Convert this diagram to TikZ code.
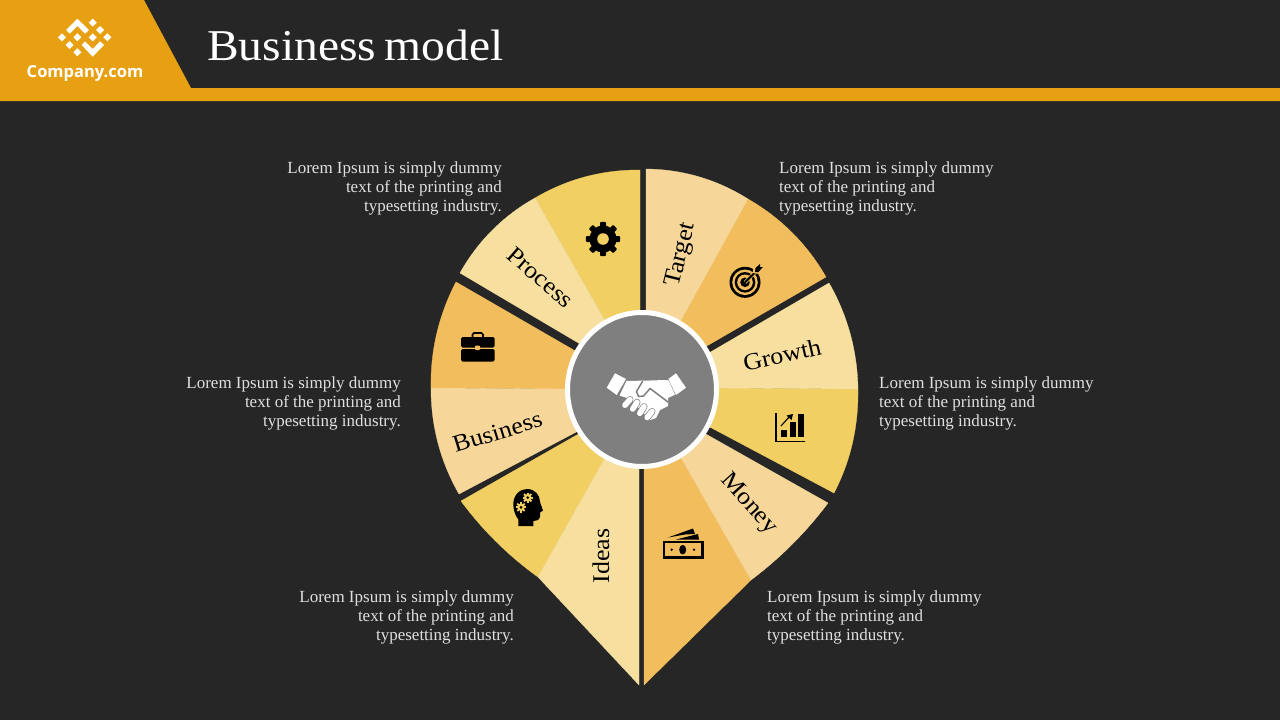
\documentclass[tikz,border=0pt]{standalone}
\usepackage{fontspec}
\usetikzlibrary{shapes.geometric}
\setmainfont{Liberation Serif}
\newfontfamily\titlef[FakeStretch=1.08]{Liberation Serif}
\newfontfamily\labelf[FakeStretch=1.08]{Liberation Serif}
\newfontfamily\logof{Open Sans}
\definecolor{bg}{HTML}{262626}
\definecolor{orangehead}{HTML}{E8A013}
\definecolor{ygold}{HTML}{F2CF63}
\definecolor{ypale}{HTML}{F7E09F}
\definecolor{yorange}{HTML}{F2BD5C}
\definecolor{ypeach}{HTML}{F7D799}
\definecolor{hubgray}{HTML}{7F7F7F}
\definecolor{bodytext}{HTML}{E0E0E0}
\tikzset{
  gold/.style={fill=ygold,draw=ygold,line width=.3pt},
  pale/.style={fill=ypale,draw=ypale,line width=.3pt},
  deep/.style={fill=yorange,draw=yorange,line width=.3pt},
  peach/.style={fill=ypeach,draw=ypeach,line width=.3pt},
  lorem/.style={font=\fontsize{17}{19}\selectfont,text=bodytext,inner sep=0pt},
  seglabel/.style={font=\labelf\fontsize{24}{26}\selectfont,text=black,inner sep=0pt},
}
\begin{document}
\begin{tikzpicture}[x=1pt,y=-1pt]
\path[use as bounding box,fill=bg] (0,0) rectangle (1280,720);
% header
\fill[orangehead] (0,0) -- (144,0) -- (191,88) -- (1280,88) -- (1280,101) -- (0,101) -- cycle;
% logo
\fill[white] (66,30) -- (77.3,18.7) -- (89,30) -- (85,33.7) -- (77.3,26) -- (69.7,33.7) -- cycle;
\fill[white] (81.7,45) -- (85,41.3) -- (92.7,49) -- (100,41.3) -- (104,45) -- (92.7,56.7) -- cycle;
\foreach \p in {(92.7,22.7),(100,30),(107.3,37.3),(62,37.3),(77.3,37.3),(92.7,37.3),(69.7,45),(77.3,52.3)}
  \fill[white,shift={\p}] (-4,0) -- (0,-4) -- (4,0) -- (0,4) -- cycle;
\node[font=\logof\bfseries\fontsize{16.5}{20}\selectfont,text=white,inner sep=0pt,anchor=base] (logotext) at (85,77) {Company.com};
\node[font=\titlef\fontsize{44}{50}\selectfont,text=white,inner sep=0pt,anchor=base west] (title) at (207,60) {Business\hspace{-3.5pt} model};
% segments
\path[gold] (640,170) .. controls (602.3,169.7) and (567.3,179) .. (535,198) -- (607,324) -- (640,315) -- cycle;
\path[pale] (535,198) .. controls (503,216) and (478,241) .. (460,273) -- (581,344.5) -- (607,324) -- cycle;
\path[deep] (456,282) .. controls (438.7,315.3) and (430.3,350.7) .. (431,388) -- (570,389) -- (578,352.5) -- cycle;
\path[peach] (431,388) .. controls (431,426) and (440.3,461.3) .. (459,494) -- (580,430) -- (570,389) -- cycle;
\path[gold] (461,501) .. controls (482.7,530.3) and (508.3,555.7) .. (538,577) -- (606,456) -- (582,432) -- cycle;
\path[pale] (538,577) -- (639,685) -- (639,463) -- (606,456) -- cycle;
\path[deep] (644,685) -- (751,580) -- (680,456) -- (644,463) -- cycle;
\path[peach] (751,580) .. controls (780.3,558) and (806,532.3) .. (828,503) -- (704,433) -- (680,456) -- cycle;
\path[gold] (834,493) .. controls (851,460.3) and (858.5,425.7) .. (858,389) -- (715,388) -- (706,425) -- cycle;
\path[pale] (858,389) .. controls (857.3,351) and (847.7,315.7) .. (829,283) -- (708,353.5) -- (715,388) -- cycle;
\path[deep] (826,277) .. controls (807,244) and (781,218) .. (748,199) -- (680,322) -- (705,347) -- cycle;
\path[peach] (748,199) .. controls (716.7,179.4) and (682.7,169.4) .. (646,169) -- (646,315) -- (680,322) -- cycle;
% hub
\node[ellipse,fill=hubgray,draw=white,line width=5pt,minimum width=149pt,minimum height=154pt,inner sep=0pt] (hub) at (642,389.5) {};
% handshake
\fill[white] (615,373.3) -- (626,379) -- (616.7,395) -- (606.7,387.7) -- cycle;
\fill[white] (676,373.3) -- (686,387.7) -- (676,395) -- (668.3,379) -- cycle;
\fill[white] (626.5,381) -- (650,380.5) -- (665,380) -- (668.5,380.5) -- (675,394.5) -- (668,398) -- (668,406) -- (660,410) -- (656,418) -- (650,420) -- (630,399) -- (619.5,395.5) -- cycle;
\draw[hubgray,line width=1.5pt,line join=round,line cap=round] (642.5,381.5) -- (636.5,391.5) -- (638.5,396.5) -- (643.5,396) -- (650,388.5) -- (668,402);
\foreach \a/\b in {{(625,405.2)}/{(630,399.5)},{(632.7,409)}/{(637,402.3)},{(639.8,413.3)}/{(644,406.7)},{(647.2,417.5)}/{(652,411.5)}}{
  \draw[hubgray,line width=7pt,line cap=round] \a -- \b;
  \draw[white,line width=5.6pt,line cap=round] \a -- \b;
}
% gear
\fill[black] (603,239) circle (13.5);
\foreach \a in {0,45,...,315}
  \fill[black,shift={(603,239)},rotate=\a,rounded corners=1pt] (-3,-17.2) rectangle (3,-8);
\fill[ygold] (603,239) circle (5.8);
% briefcase
\draw[black,line width=1.6pt,rounded corners=1.5pt] (472.5,337.5) -- (472.5,333) -- (483,333) -- (483,337.5);
\fill[black,rounded corners=1.5pt] (461,337) rectangle (494.5,347.5);
\fill[black,rounded corners=1.5pt] (461,349) rectangle (494.5,361.5);
\fill[yorange,rounded corners=.8pt] (475,345.5) rectangle (480,350);
% target
\fill[black] (745,282.3) circle (15.5);
\fill[yorange] (745,282.3) circle (12.8);
\fill[black] (745,282.3) circle (10.3);
\fill[yorange] (745,282.3) circle (7.8);
\fill[black] (745,282.3) circle (4.8);
\draw[yorange,line width=3.5pt] (745,282.3) -- (757,270.5);
\draw[black,line width=2pt] (745,282.3) -- (758,269.5);
\fill[yorange] (752.5,273) -- (754,265.5) -- (760,262) -- (764,267) -- (760,274) -- cycle;
\fill[black] (755,272) -- (755.5,268) -- (760,264) -- (760,267) -- (762.8,267) -- (758.5,272) -- cycle;
% chart
\draw[black,line width=1.6pt] (776,413) -- (776,441.5) -- (804.5,441.5);
\fill[black] (781,430) rectangle (787,437);
\fill[black] (790,421.7) rectangle (796,437);
\fill[black] (798,413.5) rectangle (804,437);
\draw[black,line width=1.1pt] (781,426) -- (790,416);
\fill[black] (793,414) -- (786.5,415.5) -- (791.5,420) -- cycle;
% money
\draw[black,line width=2.4pt] (664,542) rectangle (702.5,557.5);
\fill[black] (682.7,549.7) ellipse (3.5 and 4.8);
\fill[black] (671.7,549.7) circle (1.3);
\fill[black] (694,549.7) circle (1.3);
\fill[black] (668,537.5) -- (693,528.5) -- (695,534) -- (685,534.5) -- cycle;
\fill[black] (676,539.5) -- (698,534) -- (699,539.5) -- cycle;
% head
\fill[black] (518.3,526) -- (518.3,519.5) .. controls (515,515) and (513.3,510) .. (513.3,504) .. controls (513.3,495) and (520,489) .. (527,489) .. controls (535,489) and (540,495) .. (540,502) -- (543,510.5) -- (540,512.5) -- (540,517) .. controls (539,520.5) and (536,521) .. (533.3,521) -- (533.3,526) -- cycle;
\foreach \c in {{(527.7,497.7)},{(521,507.3)}}{
  \fill[ygold] \c circle (3.8);
  \foreach \a in {0,45,...,315}
    \fill[ygold,shift={\c},rotate=\a] (-.9,-5.2) rectangle (.9,-2);
  \fill[black] \c circle (1.5);
}
% labels
\node[seglabel,rotate=-41] (process) at (540.5,277.5) {Process};
\node[seglabel,rotate=76] (target) at (681.5,255) {Target};
\node[seglabel,rotate=13] (growth) at (782,355) {Growth};
\node[seglabel,rotate=17] (business) at (497.5,432) {Business};
\node[seglabel,rotate=90] (ideas) at (601,556) {Ideas};
\node[seglabel,rotate=-48] (money) at (748.5,504) {Money};
% texts
\node[lorem,align=right,anchor=east] (t1) at (502,188.5) {Lorem Ipsum is simply dummy\\text of the printing and\\typesetting industry.};
\node[lorem,align=left,anchor=west] (t2) at (779,188.5) {Lorem Ipsum is simply dummy\\text of the printing and\\typesetting industry.};
\node[lorem,align=right,anchor=east] (t3) at (401,403.5) {Lorem Ipsum is simply dummy\\text of the printing and\\typesetting industry.};
\node[lorem,align=left,anchor=west] (t4) at (879,403.5) {Lorem Ipsum is simply dummy\\text of the printing and\\typesetting industry.};
\node[lorem,align=right,anchor=east] (t5) at (514,617.5) {Lorem Ipsum is simply dummy\\text of the printing and\\typesetting industry.};
\node[lorem,align=left,anchor=west] (t6) at (767,617.5) {Lorem Ipsum is simply dummy\\text of the printing and\\typesetting industry.};
\end{tikzpicture}
\end{document}
